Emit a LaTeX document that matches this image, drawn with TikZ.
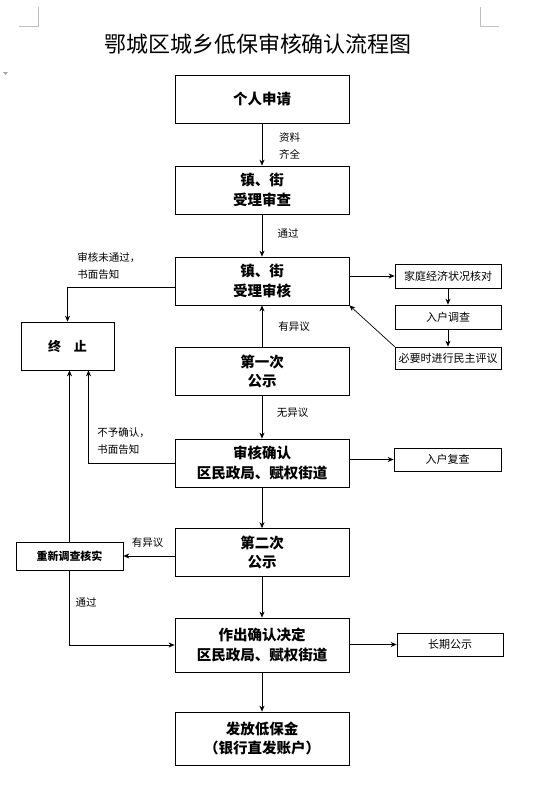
\documentclass[tikz,border=0pt]{standalone}
\usepackage{fontspec}
\setmainfont{Noto Sans CJK SC}
\usetikzlibrary{arrows.meta,positioning}

\begin{document}
\begin{tikzpicture}[x=1pt, y=-1pt, >={Stealth[length=6pt,width=5pt]}, line width=0.7pt,
   box/.style={draw, minimum width=174pt, minimum height=48pt, align=center,
               inner sep=1pt, font=\fontsize{14.5}{19.5}\selectfont\bfseries},
   side/.style={draw, minimum width=106pt, minimum height=24pt, inner sep=1pt,
                font=\fontsize{11}{13}\selectfont},
   note/.style={align=left, inner sep=0pt, font=\fontsize{10.5}{17}\selectfont}]
  \useasboundingbox (0,0) rectangle (535,788);
  % page corner marks
  \draw[black!25, line width=0.6pt] (38,7) -- (38,26) -- (19,26);
  \draw[black!25, line width=0.6pt] (480,7) -- (480,26) -- (499,26);
  \fill[black!35] (3,72) -- (8,72) -- (5.5,75) -- cycle;

  \node[font=\fontsize{22}{24}\selectfont] (title) at (258,44) {鄂城区城乡低保审核确认流程图};

  % main column
  \node[box] (apply)  at (262,99)    {个人申请};
  \node[box] (accept) at (262,190)   {镇、街\\受理审查};
  \node[box] (review) at (262,281)   {镇、街\\受理审核};
  \node[box] (pub1)   at (262,371.5) {第一次\\公示};
  \node[box] (confirm) at (262,463)  {审核确认\\区民政局、赋权街道};
  \node[box] (pub2)   at (262,552.5) {第二次\\公示};
  \node[box, minimum height=54pt] (decide) at (262,645) {作出确认决定\\区民政局、赋权街道};
  \node[box, minimum height=53pt] (pay)    at (262,738.5) {发放低保金\\（银行直发账户）};

  % side boxes
  \node[box, minimum width=93pt, font=\fontsize{13}{15}\selectfont\bfseries] (stop) at (67.5,346) {终\hspace{13pt}止};
  \node[box, minimum width=107pt, minimum height=28pt, font=\fontsize{11}{13}\selectfont\bfseries] (recheck) at (69.5,556) {重新调查核实};
  \node[side] (econ)  at (448,276)   {家庭经济状况核对};
  \node[side] (visit) at (448,317)   {入户调查};
  \node[side, minimum height=22pt] (vote) at (448,358) {必要时进行民主评议};
  \node[side, minimum width=107pt, minimum height=23pt] (revisit) at (447.5,459.5) {入户复查};
  \node[side, minimum height=23pt] (longpub) at (450,644.5) {长期公示};

  % main flow
  \draw[->] (apply) -- (accept);
  \draw[->] (accept) -- (review);
  \draw[->] (pub1) -- (review);
  \draw[->] (pub1) -- (confirm);
  \draw[->] (confirm) -- (pub2);
  \draw[->] (pub2) -- (decide);
  \draw[->] (decide) -- (pay);

  % right branch
  \draw[->] (econ.west -| review.east) -- (econ.west);
  \draw[->] (econ) -- (visit);
  \draw[->] (visit) -- (vote);
  \draw[->] (vote.north west) -- (review.south east);
  \draw[->] (confirm.east |- revisit.west) -- (revisit.west);
  \draw[->] (decide.east |- longpub.west) -- (longpub.west);

  % left branch
  \draw[->] ([yshift=-6pt]review.west) -| (stop.north);
  \draw[->] (confirm.west) -| ([xshift=21pt]stop.south);
  \draw[->] (recheck.north) -- (recheck.north |- stop.south);
  \draw[->] (pub2.west |- recheck.east) -- (recheck.east);
  \draw[->] (recheck.south) |- (decide.west);

  % labels
  \node[note] (l1) at (289.5,146) {资料\\齐全};
  \node[note] (l2) at (288,233)   {通过};
  \node[note] (l3) at (294,327)   {有异议};
  \node[note] (l4) at (292.5,413) {无异议};
  \node[note, anchor=west] (l5) at (77,266.5) {审核未通过，\\书面告知};
  \node[note, anchor=west] (l6) at (97,441.5) {不予确认，\\书面告知};
  \node[note] (l7) at (147.5,543) {有异议};
  \node[note] (l8) at (86,602)    {通过};
\end{tikzpicture}
\end{document}
